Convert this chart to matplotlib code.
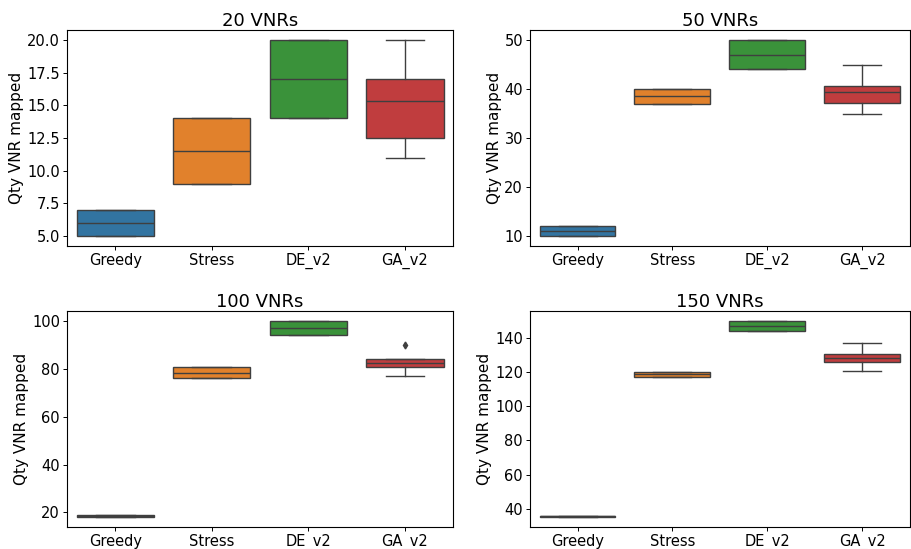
import matplotlib
matplotlib.use('Agg')
import matplotlib.pyplot as plt

# Algoritmos e cenarios
algoritmos = ['Greedy', 'Stress', 'DE_v2', 'GA_v2']
cenarios = ['20 VNRs', '50 VNRs', '100 VNRs', '150 VNRs']

# Estatisticas: (whislo, q1, med, q3, whishi)
stats_20 = [(5, 5, 6, 7, 7), (9, 9, 11.5, 14, 14), (14, 14, 17, 20, 20), (11, 12.5, 15.3, 17, 20)]
stats_50 = [(10, 10, 11, 12, 12), (37, 37, 38.5, 40, 40), (44, 44, 47, 50, 50), (35, 37.2, 39.4, 40.7, 45)]
stats_100 = [(18, 18, 18.5, 19, 19), (76, 76, 78.5, 81, 81), (94, 94, 97, 100, 100), (77, 81, 82.4, 84, 84)]
stats_150 = [(35, 35, 35.5, 36, 36), (117, 117, 118.8, 120, 120), (144, 144, 147.2, 150, 150), (121, 126.2, 128.5, 130.8, 137)]
outliers_100 = [[], [], [], [90]]

# Ticks do eixo y
yticks_20 = [5.0, 7.5, 10.0, 12.5, 15.0, 17.5, 20.0]
yticks_50 = [10, 20, 30, 40, 50]
yticks_100 = [20, 40, 60, 80, 100]
yticks_150 = [40, 60, 80, 100, 120, 140]

todos = [stats_20, stats_50, stats_100, stats_150]
fliers = [[[]] * 4, [[]] * 4, outliers_100, [[]] * 4]
yticks = [yticks_20, yticks_50, yticks_100, yticks_150]

cores = ['#3274a1', '#e1812c', '#3a923a', '#c03d3e']
cinza = '#3f3f3f'

fig = plt.figure(figsize=(9.11, 5.49), dpi=100)
posicoes = [
    [0.0735, 0.552, 0.424, 0.393],
    [0.5818, 0.552, 0.417, 0.393],
    [0.0735, 0.040, 0.424, 0.393],
    [0.5818, 0.040, 0.417, 0.393],
]

for i in range(4):
    ax = fig.add_axes(posicoes[i])
    bxp_stats = []
    for j, (lo, q1, med, q3, hi) in enumerate(todos[i]):
        bxp_stats.append({'whislo': lo, 'q1': q1, 'med': med, 'q3': q3,
                          'whishi': hi, 'fliers': fliers[i][j], 'label': algoritmos[j]})
    bp = ax.bxp(bxp_stats, positions=range(4), widths=0.8, patch_artist=True,
                showfliers=True,
                boxprops=dict(edgecolor=cinza, linewidth=1.0),
                medianprops=dict(color=cinza, linewidth=1.0),
                whiskerprops=dict(color=cinza, linewidth=1.0),
                capprops=dict(color=cinza, linewidth=1.0),
                flierprops=dict(marker='d', markerfacecolor=cinza, markeredgecolor=cinza,
                                markersize=3.5))
    for patch, c in zip(bp['boxes'], cores):
        patch.set_facecolor(c)
    ax.set_xlim(-0.5, 3.5)
    ax.set_yticks(yticks[i])
    if i == 0:
        ax.set_yticklabels(['%.1f' % t for t in yticks[i]])
    ax.set_title(cenarios[i], fontsize=13, pad=3)
    ax.set_ylabel('Qty VNR mapped', fontsize=11, labelpad=2)
    ax.tick_params(labelsize=10.5, length=3, pad=2, width=0.7)
    for s in ax.spines.values():
        s.set_linewidth(0.8)

plt.savefig('out.png', dpi=100)
